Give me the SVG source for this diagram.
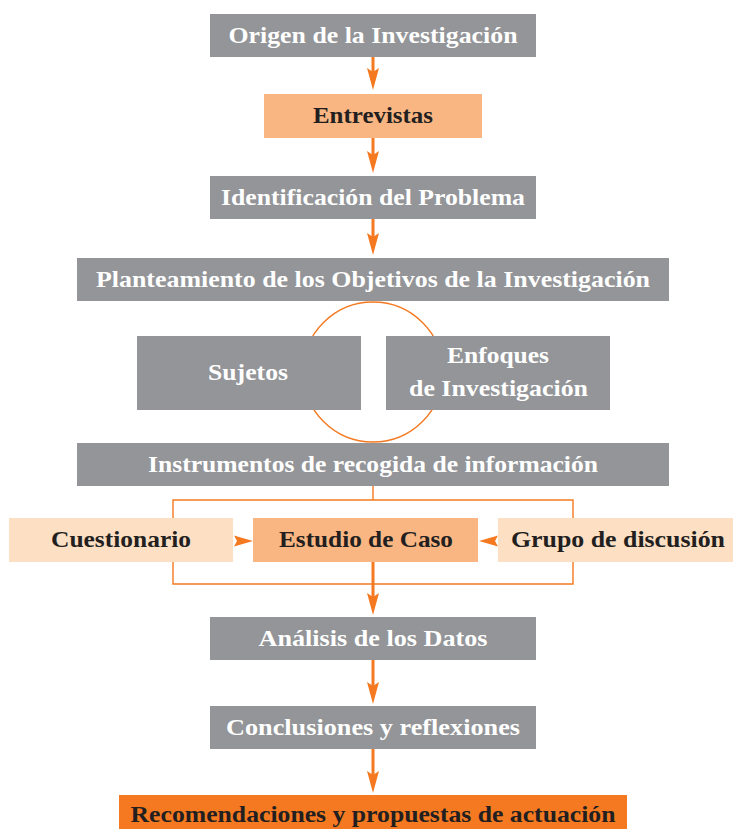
<svg xmlns="http://www.w3.org/2000/svg" width="733" height="829" viewBox="0 0 733 829">
<defs>
<style>
.g{fill:#939598}
.p1{fill:#F9B682}
.p2{fill:#FDDFC4}
.o{fill:#F47920}
text{font-family:"Liberation Serif","Times New Roman",serif;font-weight:bold;font-size:23px;text-anchor:middle}
.w{fill:#FFFFFF}
.k{fill:#231F20}
.arr{stroke:#F47920;stroke-width:3;fill:none;marker-end:url(#ah)}
.br{stroke:#F47920;stroke-width:1.4;fill:none}
.head{fill:#F47920}
</style>
<marker id="ah" viewBox="0 -6 22 12" refX="14" refY="0" markerWidth="22" markerHeight="12" markerUnits="userSpaceOnUse" orient="auto">
<path d="M0,-6 L22,0 L0,6 L4,0 Z" fill="#F47920"/>
</marker>
</defs>
<rect width="733" height="829" fill="#FFFFFF"/>
<g id="connectors">
<circle cx="373" cy="372" r="70" class="br"/>
<line x1="373" y1="57" x2="373" y2="82" class="arr"/>
<line x1="373" y1="138" x2="373" y2="165" class="arr"/>
<line x1="373" y1="219" x2="373" y2="247" class="arr"/>
<path d="M373,486 V500 M173,518 V500 H573 V518" class="br"/>
<path d="M173,562 V584 H573 V562" class="br"/>
<polygon points="234,535.5 253,541 234,546.5 237,541" class="head"/>
<polygon points="498,535.5 479,541 498,546.5 495,541" class="head"/>
<line x1="373" y1="562" x2="373" y2="607" class="arr"/>
<line x1="373" y1="660" x2="373" y2="696" class="arr"/>
<line x1="373" y1="749" x2="373" y2="785" class="arr"/>
</g>
<g id="n-origen"><rect x="210" y="14" width="326" height="43" class="g"/><text x="373" y="42.5" textLength="289" lengthAdjust="spacingAndGlyphs" class="w">Origen de la Investigación</text></g>
<g id="n-entrevistas"><rect x="264" y="94" width="218" height="44" class="p1"/><text x="373" y="123" textLength="120" lengthAdjust="spacingAndGlyphs" class="k">Entrevistas</text></g>
<g id="n-identificacion"><rect x="210" y="176" width="326" height="43" class="g"/><text x="373" y="204.5" textLength="304" lengthAdjust="spacingAndGlyphs" class="w">Identificación del Problema</text></g>
<g id="n-planteamiento"><rect x="77" y="258" width="592" height="43" class="g"/><text x="373" y="286.5" textLength="554" lengthAdjust="spacingAndGlyphs" class="w">Planteamiento de los Objetivos de la Investigación</text></g>
<g id="n-sujetos"><rect x="137" y="336" width="224" height="74" class="g"/><text x="248" y="380" textLength="80" lengthAdjust="spacingAndGlyphs" class="w">Sujetos</text></g>
<g id="n-enfoques"><rect x="386" y="336" width="224" height="74" class="g"/><text x="498" y="363" textLength="102" lengthAdjust="spacingAndGlyphs" class="w">Enfoques</text><text x="498.5" y="396" textLength="179" lengthAdjust="spacingAndGlyphs" class="w">de Investigación</text></g>
<g id="n-instrumentos"><rect x="77" y="443" width="592" height="43" class="g"/><text x="373" y="471.5" textLength="450" lengthAdjust="spacingAndGlyphs" class="w">Instrumentos de recogida de información</text></g>
<g id="n-cuestionario"><rect x="9" y="518" width="224" height="44" class="p2"/><text x="121" y="547" textLength="140" lengthAdjust="spacingAndGlyphs" class="k">Cuestionario</text></g>
<g id="n-estudio"><rect x="253" y="518" width="225" height="44" class="p1"/><text x="366" y="547" textLength="174" lengthAdjust="spacingAndGlyphs" class="k">Estudio de Caso</text></g>
<g id="n-grupo"><rect x="498" y="518" width="235" height="44" class="p2"/><text x="618" y="547" textLength="214" lengthAdjust="spacingAndGlyphs" class="k">Grupo de discusión</text></g>
<g id="n-analisis"><rect x="210" y="617" width="326" height="43" class="g"/><text x="373" y="645.5" textLength="229" lengthAdjust="spacingAndGlyphs" class="w">Análisis de los Datos</text></g>
<g id="n-conclusiones"><rect x="210" y="706" width="326" height="43" class="g"/><text x="373" y="734.5" textLength="294" lengthAdjust="spacingAndGlyphs" class="w">Conclusiones y reflexiones</text></g>
<g id="n-recomendaciones"><rect x="119" y="795" width="508" height="34" class="o"/><text x="373" y="822" textLength="485" lengthAdjust="spacingAndGlyphs" class="k">Recomendaciones y propuestas de actuación</text></g>
</svg>
